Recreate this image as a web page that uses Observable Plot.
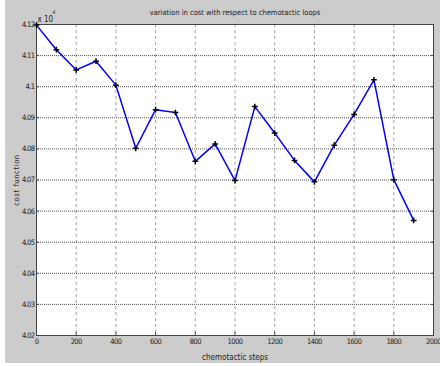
<!DOCTYPE html>
<html>
<head>
<meta charset="utf-8">
<script src="https://cdn.jsdelivr.net/npm/d3@7"></script>
<script src="https://cdn.jsdelivr.net/npm/@observablehq/plot@0.6"></script>
<style>
  html, body { margin: 0; padding: 0; background: #ffffff; }
  #wrap { position: absolute; left: 5px; top: 0px; width: 435px; height: 363px; background: #cccccc; }
  svg { font-family: "Liberation Sans Narrow", "DejaVu Sans Condensed", "Arial Narrow", sans-serif; }
  g[aria-label="x-axis tick label"] text, g[aria-label="y-axis tick label"] text { letter-spacing: -0.6px; font-size: 7.5px; }
  g[aria-label="y-axis label"] text { letter-spacing: 0.6px; font-size: 7.5px; }
</style>
</head>
<body>
<div id="wrap"></div>
<script>
const title = "variation in cost with respect to chemotactic loops";
const xLabel = "chemotactic steps";
const yLabel = "cost function";
const steps = [0, 100, 200, 300, 400, 500, 600, 700, 800, 900, 1000, 1100, 1200, 1300, 1400, 1500, 1600, 1700, 1800, 1900];
const cost = [4.1198, 4.1119, 4.1054, 4.1082, 4.1005, 4.0802, 4.0926, 4.0917, 4.0760, 4.0816, 4.0698, 4.0936, 4.0851, 4.0763, 4.0694, 4.0812, 4.0911, 4.1022, 4.0701, 4.0570];
const xTicks = [0, 200, 400, 600, 800, 1000, 1200, 1400, 1600, 1800, 2000];
const yTicks = [4.02, 4.03, 4.04, 4.05, 4.06, 4.07, 4.08, 4.09, 4.1, 4.11, 4.12];

const data = steps.map((s, i) => ({step: s, cost: cost[i]}));
const fmt = d => String(Number(d.toFixed(2)));

const chart = Plot.plot({
  width: 435,
  height: 363,
  marginLeft: 31,
  marginTop: 24,
  marginRight: 7,
  marginBottom: 28,
  style: {background: "#cccccc", fontSize: "8px", color: "#222"},
  x: {domain: [0, 2000], ticks: xTicks},
  y: {domain: [4.02, 4.12], ticks: yTicks},
  marks: [
    Plot.frame({fill: "white"}),
    Plot.gridX(xTicks.slice(1, -1), {stroke: "#888", strokeOpacity: 1, strokeDasharray: "3,3", strokeWidth: 0.8}),
    Plot.gridY(yTicks.slice(1, -1), {stroke: "#222", strokeOpacity: 1, strokeDasharray: "1,1", strokeWidth: 0.8}),
    Plot.axisX(xTicks, {tickSize: -3, tickPadding: 6, tickFormat: d => String(d), label: xLabel, labelAnchor: "center", labelArrow: "none", labelOffset: 24, stroke: "#444"}),
    Plot.axisY(yTicks, {tickSize: -3, tickPadding: 5, tickFormat: fmt, label: yLabel, labelAnchor: "center", labelArrow: "none", labelOffset: 23, stroke: "#444"}),
    Plot.axisY(yTicks, {anchor: "right", tickSize: -3, tickFormat: () => "", label: null, stroke: "#444"}),
    Plot.frame({stroke: "#444", strokeWidth: 1}),
    Plot.line(data, {x: "step", y: "cost", stroke: "#0000ff", strokeWidth: 1.5}),
    Plot.dot(data, {x: "step", y: "cost", symbol: "plus", r: 2, stroke: "black", strokeWidth: 1.5}),
    Plot.text([title], {frameAnchor: "top", dy: -15, text: d => d, fontSize: 7.5, fill: "#222"}),
    Plot.text(["x 10"], {frameAnchor: "top-left", dy: -8, dx: 1, text: d => d, textAnchor: "start", fontSize: 8, fill: "#222"}),
    Plot.text(["4"], {frameAnchor: "top-left", dy: -14, dx: 16, text: d => d, textAnchor: "start", fontSize: 5, fill: "#222"})
  ]
});
document.getElementById("wrap").appendChild(chart);
</script>
</body>
</html>
